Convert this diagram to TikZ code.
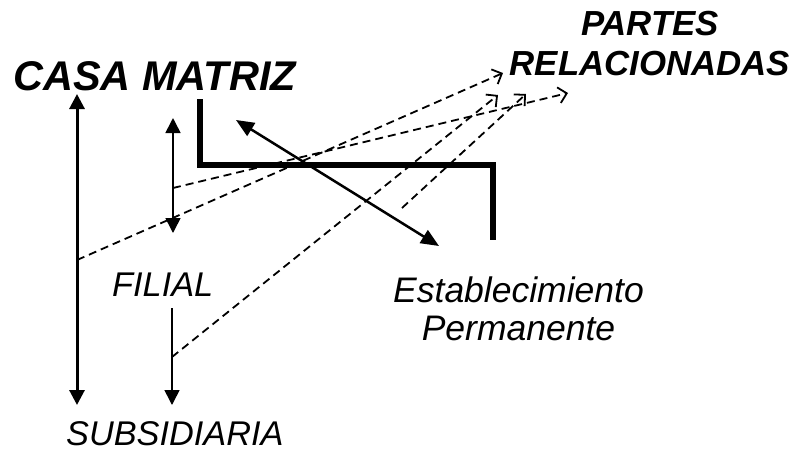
\documentclass[tikz,border=0pt]{standalone}
\usepackage{fontspec}
\setmainfont{Liberation Sans}
\usetikzlibrary{arrows.meta}
\begin{document}
\begin{tikzpicture}[x=1pt,y=-1pt,
  lbl/.style={inner sep=0pt, font=\fontsize{34.3}{38}\selectfont\itshape},
  eplbl/.style={inner sep=0pt, align=center, font=\fontsize{35.5}{38}\selectfont\itshape},
  bigtitle/.style={inner sep=0pt, font=\fontsize{41.5}{44}\selectfont\bfseries\itshape},
  subtitle/.style={inner sep=0pt, align=center, font=\fontsize{34.8}{40}\selectfont\bfseries\itshape},
  thickarrow/.style={line width=3pt, {Triangle[length=15pt,width=15pt]}-{Triangle[length=15pt,width=15pt]}},
  thinarrow/.style={line width=1.6pt, {Triangle[length=15pt,width=15pt]}-{Triangle[length=15pt,width=15pt]}},
  thindown/.style={line width=1.6pt, -{Triangle[length=15pt,width=15pt]}},
  diagarrow/.style={line width=2.5pt, {Triangle[length=18pt,width=15pt]}-{Triangle[length=18pt,width=15pt]}},
  bracket/.style={line width=5.5pt, line join=miter},
  relation/.style={line width=1.8pt, dash pattern=on 8pt off 5pt, -{Straight Barb[length=8pt,width=16pt,line width=1.8pt]}}
]
\useasboundingbox (0,0) rectangle (807,451);
\fill[white] (0,0) rectangle (807,451);

% texts
\node[bigtitle, anchor=base west] (casa) at (13,90) {CASA MATRIZ};
\node[subtitle, anchor=base] (partes) at (650,75) {PARTES\\RELACIONADAS};
\node[lbl, anchor=base west] (filial) at (112,296) {FILIAL};
\node[lbl, anchor=base west] (subsid) at (66,445) {SUBSIDIARIA};
\node[eplbl, anchor=base] (estab) at (518.5,340) {Establecimiento\\Permanente};

% coordinates
\coordinate (casaA) at (77,94);
\coordinate (subA) at (77,405);
\coordinate (filTop) at (173,118);
\coordinate (filBot) at (173,233);
\coordinate (filDownStart) at (172,308);
\coordinate (filDownEnd) at (172,405);
\coordinate (brA) at (200,99);
\coordinate (brB) at (200,165);
\coordinate (brC) at (493,165);
\coordinate (brD) at (493,240);
\coordinate (estA) at (236,120);
\coordinate (estB) at (439,246);

\coordinate (srcB) at (77,260);
\coordinate (srcA) at (173,188);
\coordinate (srcC) at (172,357);
\coordinate (srcD) at (402,208);
\coordinate (tipB) at (503,73);
\coordinate (tipA) at (568,93);
\coordinate (tipC) at (498,95);
\coordinate (tipD) at (526,94);

% connectors
\draw[thickarrow] (casaA) -- (subA);
\draw[thinarrow] (filTop) -- (filBot);
\draw[thindown] (filDownStart) -- (filDownEnd);
\draw[bracket] (brA) -- (brB) -- (brC) -- (brD);
\draw[diagarrow] (estA) -- (estB);

\draw[relation] (srcB) -- (tipB);
\draw[relation] (srcA) -- (tipA);
\draw[relation] (srcC) -- (tipC);
\draw[relation] (srcD) -- (tipD);
\end{tikzpicture}
\end{document}
